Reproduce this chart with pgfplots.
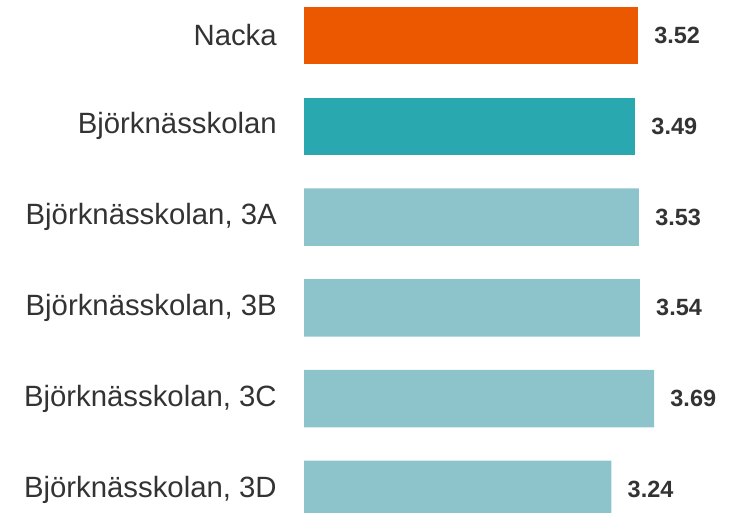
\documentclass[border=0pt]{standalone}
\usepackage{pgfplots}
\pgfplotsset{compat=1.18}
\usepackage{fontspec}
\setmainfont{Liberation Sans}
\definecolor{cNacka}{RGB}{235,88,0}
\definecolor{cSchool}{RGB}{42,168,176}
\definecolor{cClass}{RGB}{141,196,204}
\definecolor{txt}{RGB}{51,51,51}
\begin{document}
\begin{tikzpicture}
\path[use as bounding box] (0,0) rectangle (557.25pt,384.75pt);
\begin{axis}[
  at={(228pt,0pt)}, anchor=south west,
  scale only axis,
  width=329.25pt, height=384.75pt,
  xmin=0, xmax=4.626,
  ymin=-0.391, ymax=5.259,
  y dir=reverse,
  clip=true,
  axis line style={draw=none},
  xtick=\empty,
  ytick={0,1,2,3,4,5},
  yticklabels={Nacka,Björknässkolan,{Björknässkolan, 3A},{Björknässkolan, 3B},{Björknässkolan, 3C},{Björknässkolan, 3D}},
  major tick length=0pt,
  yticklabel style={font=\fontsize{22pt}{26pt}\selectfont, text=txt, anchor=east, inner sep=0pt, xshift=-20.25pt},
  xbar,
  bar width=0.633,
  nodes near coords,
  nodes near coords style={font=\fontsize{17.6pt}{20pt}\selectfont\bfseries, text=txt, anchor=west, inner sep=0pt, xshift=12pt,
    /pgf/number format/.cd, fixed, fixed zerofill, precision=2, assume math mode=true},
  every axis plot/.append style={draw=none, bar shift=0pt},
]
\addplot[fill=cNacka, bar shift=0pt] coordinates {(3.52,0)};
\addplot[fill=cSchool, bar shift=0pt] coordinates {(3.49,1)};
\addplot[fill=cClass, bar shift=0pt] coordinates {(3.53,2) (3.54,3) (3.69,4) (3.24,5)};
\end{axis}
\end{tikzpicture}
\end{document}
